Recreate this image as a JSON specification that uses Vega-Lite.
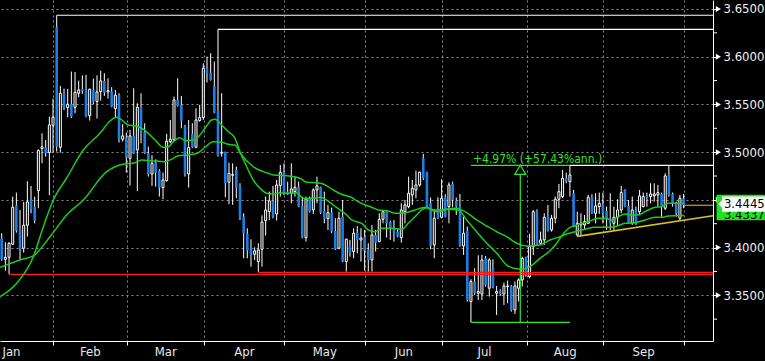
{
"$schema":"https://vega.github.io/schema/vega-lite/v6.json",
"width":713,"height":341,"autosize":"none",
"padding":{"left":0,"top":0,"right":52,"bottom":20},
"background":"black",
"config":{"view":{"stroke":null},"font":"'DejaVu Sans Condensed', 'Liberation Sans', sans-serif"},
"datasets":{
"candles":[
{"k":1,"o":3.4097,"h":3.4150,"l":3.3863,"c":3.3877},
{"k":2,"o":3.3877,"h":3.4056,"l":3.3758,"c":3.3898},
{"k":3,"o":3.3898,"h":3.4056,"l":3.3720,"c":3.4045},
{"k":4,"o":3.4035,"h":3.4534,"l":3.4028,"c":3.4422},
{"k":5,"o":3.4440,"h":3.4576,"l":3.4157,"c":3.4178},
{"k":6,"o":3.4192,"h":3.4394,"l":3.3870,"c":3.3982},
{"k":7,"o":3.3993,"h":3.4478,"l":3.3947,"c":3.4234},
{"k":8,"o":3.4234,"h":3.4695,"l":3.4115,"c":3.4478},
{"k":9,"o":3.4506,"h":3.4646,"l":3.4359,"c":3.4401},
{"k":10,"o":3.4426,"h":3.4534,"l":3.4254,"c":3.4282},
{"k":11,"o":3.4597,"h":3.5030,"l":3.4412,"c":3.5016},
{"k":12,"o":3.5037,"h":3.5198,"l":3.4883,"c":3.5055},
{"k":13,"o":3.5048,"h":3.5128,"l":3.4953,"c":3.4988},
{"k":14,"o":3.4995,"h":3.5372,"l":3.4548,"c":3.5285},
{"k":15,"o":3.5281,"h":3.5561,"l":3.4995,"c":3.5365},
{"k":16,"o":3.6308,"h":3.6434,"l":3.5006,"c":3.5058},
{"k":17,"o":3.5051,"h":3.5694,"l":3.4995,"c":3.5617},
{"k":18,"o":3.5617,"h":3.5666,"l":3.5442,"c":3.5467},
{"k":19,"o":3.5467,"h":3.5662,"l":3.5365,"c":3.5502},
{"k":20,"o":3.5502,"h":3.5844,"l":3.5358,"c":3.5372},
{"k":21,"o":3.5470,"h":3.5840,"l":3.5407,"c":3.5627},
{"k":22,"o":3.5617,"h":3.5749,"l":3.5575,"c":3.5652},
{"k":23,"o":3.5662,"h":3.5805,"l":3.5610,"c":3.5641},
{"k":24,"o":3.5652,"h":3.5809,"l":3.5365,"c":3.5372},
{"k":25,"o":3.5383,"h":3.5666,"l":3.5330,"c":3.5659},
{"k":26,"o":3.5652,"h":3.5770,"l":3.5502,"c":3.5530},
{"k":27,"o":3.5530,"h":3.5805,"l":3.5351,"c":3.5631},
{"k":28,"o":3.5634,"h":3.5854,"l":3.5540,"c":3.5746},
{"k":29,"o":3.5746,"h":3.5826,"l":3.5589,"c":3.5624},
{"k":30,"o":3.5631,"h":3.5774,"l":3.5561,"c":3.5645},
{"k":31,"o":3.5634,"h":3.5680,"l":3.5470,"c":3.5477},
{"k":32,"o":3.5456,"h":3.5652,"l":3.5355,"c":3.5596},
{"k":33,"o":3.5596,"h":3.5617,"l":3.5100,"c":3.5135},
{"k":34,"o":3.5135,"h":3.5292,"l":3.5110,"c":3.5170},
{"k":35,"o":3.5152,"h":3.5205,"l":3.4785,"c":3.4943},
{"k":36,"o":3.4936,"h":3.5233,"l":3.4649,"c":3.5170},
{"k":37,"o":3.5170,"h":3.5669,"l":3.4981,"c":3.4988},
{"k":38,"o":3.5023,"h":3.5512,"l":3.4593,"c":3.5470},
{"k":39,"o":3.5470,"h":3.5617,"l":3.5093,"c":3.5205},
{"k":40,"o":3.5212,"h":3.5302,"l":3.4981,"c":3.4988},
{"k":41,"o":3.4988,"h":3.5058,"l":3.4743,"c":3.4771},
{"k":42,"o":3.4771,"h":3.4967,"l":3.4646,"c":3.4883},
{"k":43,"o":3.4890,"h":3.4925,"l":3.4639,"c":3.4785},
{"k":44,"o":3.4802,"h":3.4820,"l":3.4534,"c":3.4628},
{"k":45,"o":3.4628,"h":3.4785,"l":3.4506,"c":3.4708},
{"k":46,"o":3.4701,"h":3.5191,"l":3.4691,"c":3.5114},
{"k":47,"o":3.5110,"h":3.5337,"l":3.5093,"c":3.5135},
{"k":48,"o":3.5128,"h":3.5582,"l":3.5110,"c":3.5547},
{"k":49,"o":3.5547,"h":3.5774,"l":3.5477,"c":3.5484},
{"k":50,"o":3.5495,"h":3.5589,"l":3.5250,"c":3.5330},
{"k":51,"o":3.5274,"h":3.5285,"l":3.4743,"c":3.4771},
{"k":52,"o":3.4771,"h":3.5337,"l":3.4628,"c":3.5048},
{"k":53,"o":3.5191,"h":3.5302,"l":3.5041,"c":3.5051},
{"k":54,"o":3.5051,"h":3.5460,"l":3.5041,"c":3.5337},
{"k":55,"o":3.5330,"h":3.5495,"l":3.5320,"c":3.5362},
{"k":56,"o":3.5362,"h":3.5931,"l":3.5337,"c":3.5879},
{"k":57,"o":3.5879,"h":3.6001,"l":3.5729,"c":3.5826},
{"k":58,"o":3.5833,"h":3.6036,"l":3.5749,"c":3.5756},
{"k":59,"o":3.5694,"h":3.5949,"l":3.5407,"c":3.5414},
{"k":60,"o":3.5432,"h":3.6287,"l":3.4953,"c":3.4964},
{"k":61,"o":3.4988,"h":3.5617,"l":3.4953,"c":3.4999},
{"k":62,"o":3.4999,"h":3.5006,"l":3.4527,"c":3.4674},
{"k":63,"o":3.4684,"h":3.4890,"l":3.4454,"c":3.4778},
{"k":64,"o":3.4757,"h":3.4883,"l":3.4447,"c":3.4764},
{"k":65,"o":3.4813,"h":3.4848,"l":3.4517,"c":3.4628},
{"k":66,"o":3.4646,"h":3.4674,"l":3.4289,"c":3.4307},
{"k":67,"o":3.4324,"h":3.4359,"l":3.3888,"c":3.4150},
{"k":68,"o":3.4143,"h":3.4202,"l":3.3888,"c":3.3968},
{"k":69,"o":3.3993,"h":3.4087,"l":3.3800,"c":3.3923},
{"k":70,"o":3.3930,"h":3.4003,"l":3.3870,"c":3.3965},
{"k":71,"o":3.3853,"h":3.4045,"l":3.3741,"c":3.3975},
{"k":72,"o":3.3982,"h":3.4338,"l":3.3800,"c":3.4268},
{"k":73,"o":3.4282,"h":3.4534,"l":3.4125,"c":3.4394},
{"k":74,"o":3.4376,"h":3.4586,"l":3.4289,"c":3.4489},
{"k":75,"o":3.4489,"h":3.4646,"l":3.4307,"c":3.4324},
{"k":76,"o":3.4352,"h":3.4708,"l":3.4282,"c":3.4656},
{"k":77,"o":3.4649,"h":3.4866,"l":3.4534,"c":3.4789},
{"k":78,"o":3.4789,"h":3.4883,"l":3.4551,"c":3.4576},
{"k":79,"o":3.4586,"h":3.4691,"l":3.4551,"c":3.4558},
{"k":80,"o":3.4569,"h":3.4883,"l":3.4464,"c":3.4614},
{"k":81,"o":3.4586,"h":3.4743,"l":3.4534,"c":3.4632},
{"k":82,"o":3.4632,"h":3.4691,"l":3.4422,"c":3.4429},
{"k":83,"o":3.4436,"h":3.4534,"l":3.4097,"c":3.4104},
{"k":84,"o":3.4104,"h":3.4534,"l":3.4062,"c":3.4510},
{"k":85,"o":3.4510,"h":3.4534,"l":3.4366,"c":3.4376},
{"k":86,"o":3.4394,"h":3.4621,"l":3.4352,"c":3.4604},
{"k":87,"o":3.4604,"h":3.4743,"l":3.4464,"c":3.4646},
{"k":88,"o":3.4632,"h":3.4639,"l":3.4352,"c":3.4366},
{"k":89,"o":3.4384,"h":3.4586,"l":3.4254,"c":3.4300},
{"k":90,"o":3.4303,"h":3.4447,"l":3.4185,"c":3.4366},
{"k":91,"o":3.4369,"h":3.4419,"l":3.4150,"c":3.4167},
{"k":92,"o":3.4174,"h":3.4307,"l":3.3975,"c":3.3986},
{"k":93,"o":3.3993,"h":3.4376,"l":3.3982,"c":3.4307},
{"k":94,"o":3.4324,"h":3.4499,"l":3.3846,"c":3.3853},
{"k":95,"o":3.3853,"h":3.4094,"l":3.3748,"c":3.4087},
{"k":96,"o":3.4017,"h":3.4080,"l":3.3905,"c":3.3947},
{"k":97,"o":3.3958,"h":3.4202,"l":3.3888,"c":3.4150},
{"k":98,"o":3.4157,"h":3.4227,"l":3.3940,"c":3.4080},
{"k":99,"o":3.4080,"h":3.4202,"l":3.3853,"c":3.4101},
{"k":100,"o":3.4115,"h":3.4185,"l":3.3758,"c":3.3968},
{"k":101,"o":3.3975,"h":3.4045,"l":3.3748,"c":3.3870},
{"k":102,"o":3.3870,"h":3.4237,"l":3.3748,"c":3.4132},
{"k":103,"o":3.4132,"h":3.4185,"l":3.3958,"c":3.4052},
{"k":104,"o":3.4062,"h":3.4359,"l":3.4056,"c":3.4296},
{"k":105,"o":3.4296,"h":3.4394,"l":3.4254,"c":3.4376},
{"k":106,"o":3.4384,"h":3.4394,"l":3.4104,"c":3.4254},
{"k":107,"o":3.4268,"h":3.4282,"l":3.4080,"c":3.4195},
{"k":108,"o":3.4202,"h":3.4289,"l":3.4062,"c":3.4157},
{"k":109,"o":3.4167,"h":3.4202,"l":3.4108,"c":3.4115},
{"k":110,"o":3.4104,"h":3.4464,"l":3.4052,"c":3.4394},
{"k":111,"o":3.4376,"h":3.4499,"l":3.4254,"c":3.4447},
{"k":112,"o":3.4429,"h":3.4743,"l":3.4412,"c":3.4569},
{"k":113,"o":3.4551,"h":3.4708,"l":3.4447,"c":3.4621},
{"k":114,"o":3.4604,"h":3.4806,"l":3.4517,"c":3.4656},
{"k":115,"o":3.4656,"h":3.4796,"l":3.4639,"c":3.4789},
{"k":116,"o":3.4936,"h":3.4981,"l":3.4708,"c":3.4726},
{"k":117,"o":3.4789,"h":3.4796,"l":3.4422,"c":3.4429},
{"k":118,"o":3.4464,"h":3.4524,"l":3.3982,"c":3.4017},
{"k":119,"o":3.4028,"h":3.4401,"l":3.3888,"c":3.4307},
{"k":120,"o":3.4401,"h":3.4527,"l":3.4300,"c":3.4307},
{"k":121,"o":3.4317,"h":3.4715,"l":3.4307,"c":3.4517},
{"k":122,"o":3.4524,"h":3.4558,"l":3.4317,"c":3.4324},
{"k":123,"o":3.4429,"h":3.4684,"l":3.4254,"c":3.4656},
{"k":124,"o":3.4667,"h":3.4691,"l":3.4422,"c":3.4499},
{"k":125,"o":3.4489,"h":3.4524,"l":3.4342,"c":3.4429},
{"k":126,"o":3.4429,"h":3.4562,"l":3.4010,"c":3.4017},
{"k":127,"o":3.4017,"h":3.4324,"l":3.3923,"c":3.4150},
{"k":128,"o":3.4178,"h":3.4220,"l":3.3434,"c":3.3451},
{"k":129,"o":3.3434,"h":3.3668,"l":3.3217,"c":3.3644},
{"k":130,"o":3.3644,"h":3.3783,"l":3.3504,"c":3.3521},
{"k":131,"o":3.3521,"h":3.3919,"l":3.3451,"c":3.3539},
{"k":132,"o":3.3514,"h":3.3923,"l":3.3451,"c":3.3870},
{"k":133,"o":3.3888,"h":3.3912,"l":3.3591,"c":3.3609},
{"k":134,"o":3.3574,"h":3.3888,"l":3.3486,"c":3.3870},
{"k":135,"o":3.3783,"h":3.3877,"l":3.3574,"c":3.3584},
{"k":136,"o":3.3521,"h":3.3598,"l":3.3294,"c":3.3539},
{"k":137,"o":3.3546,"h":3.3563,"l":3.3493,"c":3.3514},
{"k":138,"o":3.3514,"h":3.3633,"l":3.3399,"c":3.3598},
{"k":139,"o":3.3591,"h":3.3654,"l":3.3416,"c":3.3598},
{"k":140,"o":3.3598,"h":3.3608,"l":3.3329,"c":3.3346},
{"k":141,"o":3.3346,"h":3.3644,"l":3.3304,"c":3.3598},
{"k":142,"o":3.3574,"h":3.3678,"l":3.3434,"c":3.3661},
{"k":143,"o":3.3661,"h":3.3905,"l":3.3591,"c":3.3888},
{"k":144,"o":3.3898,"h":3.3905,"l":3.3696,"c":3.3713},
{"k":145,"o":3.3696,"h":3.4143,"l":3.3678,"c":3.4010},
{"k":146,"o":3.4010,"h":3.4394,"l":3.3923,"c":3.4376},
{"k":147,"o":3.4384,"h":3.4401,"l":3.4017,"c":3.4028},
{"k":148,"o":3.4045,"h":3.4167,"l":3.4028,"c":3.4080},
{"k":149,"o":3.4080,"h":3.4359,"l":3.4028,"c":3.4317},
{"k":150,"o":3.4331,"h":3.4447,"l":3.4167,"c":3.4178},
{"k":151,"o":3.4185,"h":3.4342,"l":3.4167,"c":3.4307},
{"k":152,"o":3.4307,"h":3.4534,"l":3.4254,"c":3.4506},
{"k":153,"o":3.4506,"h":3.4667,"l":3.4412,"c":3.4586},
{"k":154,"o":3.4534,"h":3.4813,"l":3.4517,"c":3.4726},
{"k":155,"o":3.4726,"h":3.4785,"l":3.4674,"c":3.4691},
{"k":156,"o":3.4691,"h":3.4862,"l":3.4534,"c":3.4761},
{"k":157,"o":3.4569,"h":3.4604,"l":3.4220,"c":3.4227},
{"k":158,"o":3.4132,"h":3.4376,"l":3.4115,"c":3.4254},
{"k":159,"o":3.4237,"h":3.4359,"l":3.4132,"c":3.4254},
{"k":160,"o":3.4237,"h":3.4342,"l":3.4185,"c":3.4272},
{"k":161,"o":3.4254,"h":3.4551,"l":3.4247,"c":3.4527},
{"k":162,"o":3.4524,"h":3.4558,"l":3.4352,"c":3.4359},
{"k":163,"o":3.4359,"h":3.4569,"l":3.4254,"c":3.4436},
{"k":164,"o":3.4429,"h":3.4576,"l":3.4352,"c":3.4464},
{"k":165,"o":3.4447,"h":3.4576,"l":3.4254,"c":3.4359},
{"k":166,"o":3.4384,"h":3.4429,"l":3.4185,"c":3.4307},
{"k":167,"o":3.4307,"h":3.4569,"l":3.4185,"c":3.4254},
{"k":168,"o":3.4254,"h":3.4429,"l":3.4185,"c":3.4317},
{"k":169,"o":3.4317,"h":3.4506,"l":3.4237,"c":3.4394},
{"k":170,"o":3.4394,"h":3.4646,"l":3.4359,"c":3.4576},
{"k":171,"o":3.4604,"h":3.4611,"l":3.4422,"c":3.4429},
{"k":172,"o":3.4436,"h":3.4499,"l":3.4247,"c":3.4254},
{"k":173,"o":3.4254,"h":3.4534,"l":3.4237,"c":3.4394},
{"k":174,"o":3.4394,"h":3.4429,"l":3.4237,"c":3.4254},
{"k":175,"o":3.4376,"h":3.4604,"l":3.4342,"c":3.4541},
{"k":176,"o":3.4429,"h":3.4576,"l":3.4422,"c":3.4534},
{"k":177,"o":3.4541,"h":3.4576,"l":3.4429,"c":3.4527},
{"k":178,"o":3.4534,"h":3.4674,"l":3.4464,"c":3.4562},
{"k":179,"o":3.4541,"h":3.4674,"l":3.4482,"c":3.4562},
{"k":180,"o":3.4551,"h":3.4656,"l":3.4429,"c":3.4576},
{"k":181,"o":3.4562,"h":3.4576,"l":3.4324,"c":3.4429},
{"k":182,"o":3.4412,"h":3.4778,"l":3.4394,"c":3.4751},
{"k":183,"o":3.4761,"h":3.4862,"l":3.4534,"c":3.4551},
{"k":184,"o":3.4562,"h":3.4576,"l":3.4429,"c":3.4464},
{"k":185,"o":3.4464,"h":3.4482,"l":3.4324,"c":3.4359},
{"k":186,"o":3.4307,"h":3.4551,"l":3.4282,"c":3.4517},
{"k":187,"o":3.4517,"h":3.4562,"l":3.4412,"c":3.4445}
],
"ma":[
{"s":"fast","k":0.54,"v":3.3485},{"s":"fast","k":5.09,"v":3.3626},{"s":"fast","k":9.62,"v":3.3904},{"s":"fast","k":12.35,"v":3.4219},{"s":"fast","k":15.08,"v":3.4498},{"s":"fast","k":18.73,"v":3.4729},{"s":"fast","k":23.26,"v":3.5022},{"s":"fast","k":27.81,"v":3.5197},{"s":"fast","k":30.54,"v":3.5326},{"s":"fast","k":32.37,"v":3.5365},{"s":"fast","k":33.73,"v":3.5337},{"s":"fast","k":35.54,"v":3.5284},{"s":"fast","k":37.36,"v":3.5274},{"s":"fast","k":39.19,"v":3.5250},{"s":"fast","k":40.99,"v":3.5197},{"s":"fast","k":42.82,"v":3.5127},{"s":"fast","k":45.08,"v":3.5051},{"s":"fast","k":46.45,"v":3.5057},{"s":"fast","k":47.81,"v":3.5109},{"s":"fast","k":49.64,"v":3.5151},{"s":"fast","k":51.0,"v":3.5120},{"s":"fast","k":53.26,"v":3.5127},{"s":"fast","k":55.09,"v":3.5179},{"s":"fast","k":56.46,"v":3.5250},{"s":"fast","k":58.28,"v":3.5337},{"s":"fast","k":59.18,"v":3.5344},{"s":"fast","k":61.01,"v":3.5284},{"s":"fast","k":62.81,"v":3.5214},{"s":"fast","k":64.64,"v":3.5145},{"s":"fast","k":66.0,"v":3.5004},{"s":"fast","k":67.83,"v":3.4847},{"s":"fast","k":69.63,"v":3.4708},{"s":"fast","k":71.46,"v":3.4621},{"s":"fast","k":73.29,"v":3.4569},{"s":"fast","k":75.09,"v":3.4561},{"s":"fast","k":76.91,"v":3.4575},{"s":"fast","k":79.18,"v":3.4569},{"s":"fast","k":81.47,"v":3.4575},{"s":"fast","k":83.27,"v":3.4516},{"s":"fast","k":86.0,"v":3.4516},{"s":"fast","k":87.83,"v":3.4527},{"s":"fast","k":89.65,"v":3.4498},{"s":"fast","k":91.45,"v":3.4446},{"s":"fast","k":93.28,"v":3.4394},{"s":"fast","k":95.11,"v":3.4341},{"s":"fast","k":96.47,"v":3.4289},{"s":"fast","k":99.2,"v":3.4254},{"s":"fast","k":101.0,"v":3.4184},{"s":"fast","k":102.83,"v":3.4166},{"s":"fast","k":104.66,"v":3.4202},{"s":"fast","k":107.38,"v":3.4202},{"s":"fast","k":110.11,"v":3.4191},{"s":"fast","k":111.91,"v":3.4254},{"s":"fast","k":113.74,"v":3.4323},{"s":"fast","k":115.57,"v":3.4394},{"s":"fast","k":116.93,"v":3.4418},{"s":"fast","k":118.3,"v":3.4394},{"s":"fast","k":120.1,"v":3.4376},{"s":"fast","k":122.83,"v":3.4401},{"s":"fast","k":125.55,"v":3.4394},{"s":"fast","k":127.84,"v":3.4289},{"s":"fast","k":130.57,"v":3.4166},{"s":"fast","k":133.3,"v":3.4045},{"s":"fast","k":136.03,"v":3.3940},{"s":"fast","k":138.75,"v":3.3817},{"s":"fast","k":140.55,"v":3.3783},{"s":"fast","k":143.28,"v":3.3772},{"s":"fast","k":145.11,"v":3.3800},{"s":"fast","k":147.84,"v":3.3887},{"s":"fast","k":150.57,"v":3.3967},{"s":"fast","k":152.39,"v":3.4045},{"s":"fast","k":153.29,"v":3.4097},{"s":"fast","k":154.66,"v":3.4166},{"s":"fast","k":156.02,"v":3.4212},{"s":"fast","k":157.38,"v":3.4226},{"s":"fast","k":159.21,"v":3.4254},{"s":"fast","k":161.01,"v":3.4271},{"s":"fast","k":163.74,"v":3.4307},{"s":"fast","k":165.57,"v":3.4307},{"s":"fast","k":167.4,"v":3.4289},{"s":"fast","k":169.2,"v":3.4323},{"s":"fast","k":171.03,"v":3.4352},{"s":"fast","k":172.85,"v":3.4341},{"s":"fast","k":174.66,"v":3.4341},{"s":"fast","k":176.48,"v":3.4376},{"s":"fast","k":179.21,"v":3.4422},{"s":"fast","k":181.03,"v":3.4428},{"s":"fast","k":182.84,"v":3.4464},{"s":"fast","k":184.66,"v":3.4464},{"s":"fast","k":187.11,"v":3.4464},
{"s":"slow","k":0.54,"v":3.3793},{"s":"slow","k":5.99,"v":3.3870},{"s":"slow","k":9.62,"v":3.3912},{"s":"slow","k":14.18,"v":3.4114},{"s":"slow","k":18.73,"v":3.4341},{"s":"slow","k":23.26,"v":3.4498},{"s":"slow","k":29.64,"v":3.4795},{"s":"slow","k":31.91,"v":3.4847},{"s":"slow","k":34.63,"v":3.4876},{"s":"slow","k":37.36,"v":3.4889},{"s":"slow","k":39.19,"v":3.4918},{"s":"slow","k":41.92,"v":3.4910},{"s":"slow","k":45.55,"v":3.4900},{"s":"slow","k":47.81,"v":3.4935},{"s":"slow","k":49.17,"v":3.4963},{"s":"slow","k":51.9,"v":3.4970},{"s":"slow","k":54.63,"v":3.4994},{"s":"slow","k":56.46,"v":3.5051},{"s":"slow","k":58.72,"v":3.5109},{"s":"slow","k":61.01,"v":3.5103},{"s":"slow","k":62.81,"v":3.5082},{"s":"slow","k":64.64,"v":3.5075},{"s":"slow","k":66.0,"v":3.4994},{"s":"slow","k":69.63,"v":3.4847},{"s":"slow","k":73.72,"v":3.4778},{"s":"slow","k":75.09,"v":3.4760},{"s":"slow","k":78.74,"v":3.4753},{"s":"slow","k":82.37,"v":3.4726},{"s":"slow","k":84.2,"v":3.4684},{"s":"slow","k":86.93,"v":3.4680},{"s":"slow","k":88.73,"v":3.4666},{"s":"slow","k":91.45,"v":3.4603},{"s":"slow","k":94.18,"v":3.4551},{"s":"slow","k":96.01,"v":3.4533},{"s":"slow","k":98.27,"v":3.4481},{"s":"slow","k":100.1,"v":3.4446},{"s":"slow","k":101.93,"v":3.4422},{"s":"slow","k":103.73,"v":3.4394},{"s":"slow","k":106.46,"v":3.4383},{"s":"slow","k":108.28,"v":3.4359},{"s":"slow","k":111.01,"v":3.4365},{"s":"slow","k":113.74,"v":3.4394},{"s":"slow","k":116.47,"v":3.4422},{"s":"slow","k":119.19,"v":3.4394},{"s":"slow","k":121.92,"v":3.4401},{"s":"slow","k":124.65,"v":3.4411},{"s":"slow","k":127.38,"v":3.4376},{"s":"slow","k":130.57,"v":3.4289},{"s":"slow","k":133.3,"v":3.4226},{"s":"slow","k":136.03,"v":3.4166},{"s":"slow","k":138.75,"v":3.4114},{"s":"slow","k":141.48,"v":3.4045},{"s":"slow","k":144.21,"v":3.4016},{"s":"slow","k":147.84,"v":3.4027},{"s":"slow","k":150.57,"v":3.4079},{"s":"slow","k":153.29,"v":3.4114},{"s":"slow","k":155.12,"v":3.4142},{"s":"slow","k":157.38,"v":3.4166},{"s":"slow","k":160.11,"v":3.4191},{"s":"slow","k":162.84,"v":3.4212},{"s":"slow","k":165.57,"v":3.4212},{"s":"slow","k":168.3,"v":3.4219},{"s":"slow","k":171.03,"v":3.4254},{"s":"slow","k":173.75,"v":3.4261},{"s":"slow","k":176.48,"v":3.4289},{"s":"slow","k":179.21,"v":3.4317},{"s":"slow","k":181.03,"v":3.4317},{"s":"slow","k":182.84,"v":3.4330},{"s":"slow","k":184.66,"v":3.4333},{"s":"slow","k":187.11,"v":3.4337}
],
"months":[{"k":3.67,"m":"Jan"},{"k":25.17,"m":"Feb"},{"k":45.76,"m":"Mar"},{"k":67.18,"m":"Apr"},{"k":89.13,"m":"May"},{"k":110.7,"m":"Jun"},{"k":132.7,"m":"Jul"},{"k":154.7,"m":"Aug"},{"k":176.1,"m":"Sep"}],
"minor":[{"v":3.325},{"v":3.375},{"v":3.425},{"v":3.475},{"v":3.525},{"v":3.575},{"v":3.625}],
"highs":[{"k1":16,"k2":195.03,"v":3.6434},{"k1":60,"k2":195.03,"v":3.6287},{"k1":156,"k2":195.03,"v":3.4862}],
"supports":[{"k1":3,"k2":195.03,"v":3.3720},{"k1":71,"k2":195.03,"v":3.3741}],
"trend":[{"k1":158,"k2":195.03,"v1":3.4117,"v2":3.4334}],
"last":[{"k1":187.2,"k2":195.03,"v":3.4443}],
"measH":[{"k1":129,"k2":156,"v":3.4862},{"k1":129,"k2":156,"v":3.3217}],
"measV":[{"k":142.46,"v1":3.3217,"v2":3.4766,"vt":3.4816}],
"measT":[{"k":129.56,"v":3.4886,"t":"+4.97% (+57.43%ann.)"}],
"ticks":[{"v":3.35},{"v":3.40},{"v":3.45},{"v":3.50},{"v":3.55},{"v":3.60},{"v":3.65}],
"maLabel":[{"v1":3.4286,"v2":3.4553,"vt":3.4345,"t":"3.4337"}],
"lastLabel":[{"v1":3.4376,"v2":3.4535,"vt":3.4456,"t":"3.4445"}]
},
"layer":[
{"data":{"name":"candles"},
 "mark":{"type":"rule","color":"white","strokeWidth":1},
 "encoding":{
  "x":{"field":"k","type":"quantitative","scale":{"domain":[0.536,195.03],"nice":false,"zero":false,"padding":0},
   "axis":{"orient":"bottom","title":null,
    "values":[15.08,35.26,56.26,78.09,100.2,121.2,144.2,165.1,187.2],
    "labels":false,
    "domain":true,"domainColor":"white","domainWidth":1,"ticks":true,"tickColor":"white","tickSize":4,"tickWidth":1,
    "grid":true,"gridColor":"#8c8c8c","gridDash":[2,3],"gridWidth":1}},
  "y":{"field":"l","type":"quantitative","scale":{"domain":[3.3021,3.6594],"nice":false,"zero":false,"padding":0},
   "axis":{"orient":"right","title":null,
    "values":[3.35,3.4,3.45,3.5,3.55,3.6,3.65],
    "labelExpr":"abs(datum.value - 3.45) < 0.001 ? '' : format(datum.value, '.4f')",
    "domain":true,"domainColor":"white","domainWidth":1,"ticks":true,"tickColor":"white","tickSize":4,"tickWidth":1,
    "grid":true,"gridColor":"#8c8c8c","gridDash":[2,3],"gridWidth":1,
    "labels":true,"labelColor":"#f0f0f0","labelFontSize":13,"labelPadding":6,
    "labelOverlap":false,"labelBound":false,"labelFlush":false}},
  "y2":{"field":"h"}
 }},
{"data":{"name":"candles"},
 "transform":[{"filter":"datum.c >= datum.o"}],
 "mark":{"type":"bar","orient":"vertical","size":2,"fill":"black","stroke":"white","strokeWidth":1},
 "encoding":{
  "x":{"field":"k","type":"quantitative"},
  "y":{"field":"o","type":"quantitative"},
  "y2":{"field":"c"}}},
{"data":{"name":"candles"},
 "transform":[{"filter":"datum.c < datum.o"}],
 "mark":{"type":"bar","orient":"vertical","size":2.6,"fill":"#1b7fe6","stroke":null},
 "encoding":{
  "x":{"field":"k","type":"quantitative"},
  "y":{"field":"o","type":"quantitative"},
  "y2":{"field":"c"}}},
{"data":{"name":"supports"},
 "mark":{"type":"rule","color":"#ff1a1a","strokeWidth":1.3},
 "encoding":{
  "x":{"field":"k1","type":"quantitative"},
  "x2":{"field":"k2"},
  "y":{"field":"v","type":"quantitative"}}},
{"data":{"name":"ma"},
 "mark":{"type":"line","color":"#1ccb1c","strokeWidth":1.5,"interpolate":"monotone"},
 "encoding":{
  "x":{"field":"k","type":"quantitative"},
  "y":{"field":"v","type":"quantitative"},
  "detail":{"field":"s"}}},
{"data":{"name":"measH"},
 "mark":{"type":"rule","color":"#2ee82e","strokeWidth":1.2},
 "encoding":{
  "x":{"field":"k1","type":"quantitative"},
  "x2":{"field":"k2"},
  "y":{"field":"v","type":"quantitative"}}},
{"data":{"name":"highs"},
 "mark":{"type":"rule","color":"white","strokeWidth":1.2},
 "encoding":{
  "x":{"field":"k1","type":"quantitative"},
  "x2":{"field":"k2"},
  "y":{"field":"v","type":"quantitative"}}},
{"data":{"name":"trend"},
 "mark":{"type":"rule","color":"#d8c21c","strokeWidth":1.6},
 "encoding":{
  "x":{"field":"k1","type":"quantitative"},
  "x2":{"field":"k2"},
  "y":{"field":"v1","type":"quantitative"},
  "y2":{"field":"v2"}}},
{"data":{"name":"last"},
 "mark":{"type":"rule","color":"#e8920a","strokeWidth":1.2},
 "encoding":{
  "x":{"field":"k1","type":"quantitative"},
  "x2":{"field":"k2"},
  "y":{"field":"v","type":"quantitative"}}},
{"data":{"name":"measV"},
 "mark":{"type":"rule","color":"#2ee82e","strokeWidth":1.2},
 "encoding":{
  "x":{"field":"k","type":"quantitative"},
  "y":{"field":"v1","type":"quantitative"},
  "y2":{"field":"v2"}}},
{"data":{"name":"measV"},
 "mark":{"type":"point","shape":"triangle-up","size":121,"filled":false,"color":"#2ee82e","strokeWidth":1.2,"opacity":1},
 "encoding":{
  "x":{"field":"k","type":"quantitative"},
  "y":{"field":"vt","type":"quantitative"}}},
{"data":{"name":"measT"},
 "mark":{"type":"text","color":"#2ee82e","fontSize":12,"align":"left","baseline":"alphabetic"},
 "encoding":{
  "x":{"field":"k","type":"quantitative"},
  "y":{"field":"v","type":"quantitative"},
  "text":{"field":"t"}}},
{"data":{"name":"months"},
 "mark":{"type":"text","color":"#e8e8e8","fontSize":13,"align":"center","baseline":"top"},
 "encoding":{
  "x":{"field":"k","type":"quantitative"},
  "y":{"datum":3.2969,"type":"quantitative"},
  "text":{"field":"m"}}},
{"data":{"name":"minor"},
 "mark":{"type":"rule","color":"white","strokeWidth":1},
 "encoding":{
  "x":{"datum":195.03,"type":"quantitative"},
  "x2":{"datum":196.12},
  "y":{"field":"v","type":"quantitative"}}},
{"data":{"name":"ticks"},
 "mark":{"type":"point","shape":"triangle-right","size":36,"filled":true,"color":"white","opacity":1},
 "encoding":{
  "x":{"datum":196.5,"type":"quantitative"},
  "y":{"field":"v","type":"quantitative"}}},
{"data":{"name":"maLabel"},
 "mark":{"type":"rect","color":"#22e022"},
 "encoding":{
  "x":{"datum":196.0,"type":"quantitative"},
  "x2":{"datum":209.2},
  "y":{"field":"v1","type":"quantitative"},
  "y2":{"field":"v2"}}},
{"data":{"name":"maLabel"},
 "mark":{"type":"text","fontSize":13,"align":"left","baseline":"middle","color":"black"},
 "encoding":{
  "x":{"datum":198.0,"type":"quantitative"},
  "y":{"field":"vt","type":"quantitative"},
  "text":{"field":"t"}}},
{"data":{"name":"lastLabel"},
 "mark":{"type":"rect","color":"white"},
 "encoding":{
  "x":{"datum":197.5,"type":"quantitative"},
  "x2":{"datum":209.2},
  "y":{"field":"v1","type":"quantitative"},
  "y2":{"field":"v2"}}},
{"data":{"name":"lastLabel"},
 "mark":{"type":"point","shape":"M -1 0 L 0 -1 L 0 1 Z","size":62,"filled":true,"color":"white","opacity":1},
 "encoding":{
  "x":{"datum":197.55,"type":"quantitative"},
  "y":{"field":"vt","type":"quantitative"}}},
{"data":{"name":"lastLabel"},
 "mark":{"type":"text","fontSize":13,"align":"left","baseline":"middle","color":"black"},
 "encoding":{
  "x":{"datum":198.0,"type":"quantitative"},
  "y":{"field":"vt","type":"quantitative"},
  "text":{"field":"t"}}}
]
}
